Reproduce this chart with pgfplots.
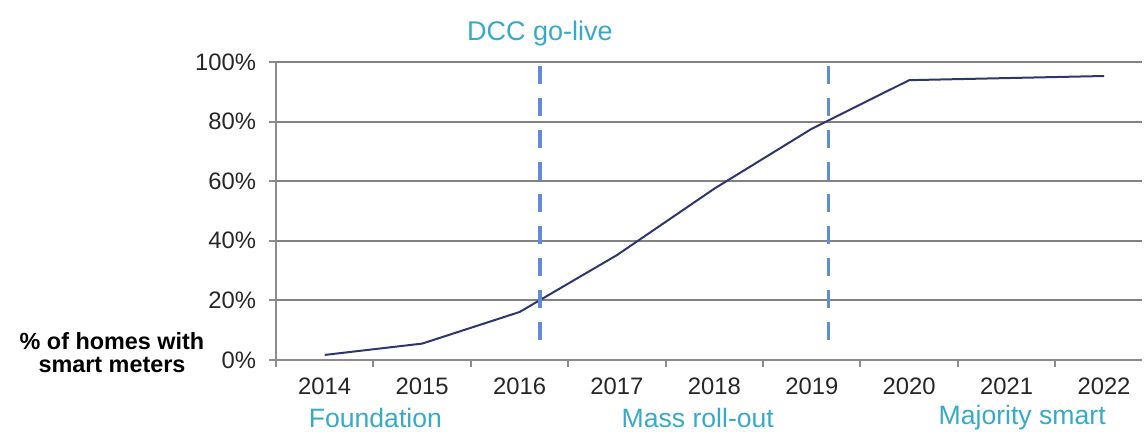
\documentclass[border=0pt]{standalone}
\usepackage{pgfplots}
\pgfplotsset{compat=1.18}
\usepackage{fontspec}
\setmainfont{Liberation Sans}
\definecolor{gridgray}{RGB}{130,130,130}
\definecolor{axgray}{RGB}{140,140,140}
\definecolor{dataline}{RGB}{45,55,110}
\definecolor{dashblue}{RGB}{95,140,220}
\definecolor{annot}{RGB}{55,170,200}
\begin{document}
\begin{tikzpicture}
\begin{axis}[
  name=ax,
  at={(0,0)}, anchor=south west,
  scale only axis,
  width=433pt, height=149pt,
  xmin=-0.5, xmax=8.39,
  ymin=0, ymax=100,
  clip=false,
  axis x line*=bottom, axis y line*=left,
  axis line style={draw=axgray, line width=1pt, -},
  xtick={0,...,8},
  xticklabels={2014,2015,2016,2017,2018,2019,2020,2021,2022},
  major x tick style={draw=none},
  minor xtick={-0.5,0.5,1.5,2.5,3.5,4.5,5.5,6.5,7.5},
  minor tick length=3.5pt,
  minor x tick style={draw=axgray, line width=1pt},
  ytick={0,20,40,60,80,100},
  yticklabels={0\%,20\%,40\%,60\%,80\%,100\%},
  major tick length=3.5pt,
  major y tick style={draw=axgray, line width=1pt},
  tick align=outside,
  ymajorgrids,
  grid style={draw=gridgray, line width=1pt},
  ticklabel style={font=\fontsize{11.9}{14}\selectfont, text=black!85},
  xticklabel style={yshift=-2pt},
  yticklabel style={xshift=-3pt},
]
\addplot[dataline, line width=1pt, mark=none] coordinates {
  (0,1.7) (1,5.5) (2,16.1) (3,35.2) (4,57.5) (5,77.6) (6,93.9) (7,94.6) (8,95.3)
};
\addplot[dashblue, line width=1.8pt, dash pattern=on 9pt off 7pt] coordinates {(2.21,6.7) (2.21,98.5)};
\addplot[dashblue, line width=1.8pt, dash pattern=on 9pt off 7pt] coordinates {(5.17,6.7) (5.17,100)};
\node[text=annot, font=\fontsize{13.5}{16}\selectfont] at (axis cs:2.21,109.5) {DCC go-live};
\node[text=annot, font=\fontsize{13.3}{16}\selectfont] at (axis cs:0.52,-19.3) {Foundation};
\node[text=annot, font=\fontsize{13.3}{16}\selectfont] at (axis cs:3.83,-19.3) {Mass roll-out};
\node[text=annot, font=\fontsize{13.3}{16}\selectfont] at (axis cs:7.16,-19.3) {Majority smart};
\end{axis}
\node[font=\bfseries\fontsize{11.7}{14}\selectfont, inner sep=0pt] at ([xshift=-82pt,yshift=9.6pt]ax.south west) {\% of homes with};
\node[font=\bfseries\fontsize{11.7}{14}\selectfont, inner sep=0pt] at ([xshift=-82pt,yshift=-2.3pt]ax.south west) {smart meters};
\pgfresetboundingbox
\useasboundingbox ([xshift=-138pt,yshift=-36pt]ax.south west) rectangle ([xshift=434pt,yshift=180pt]ax.south west);
\end{tikzpicture}
\end{document}
